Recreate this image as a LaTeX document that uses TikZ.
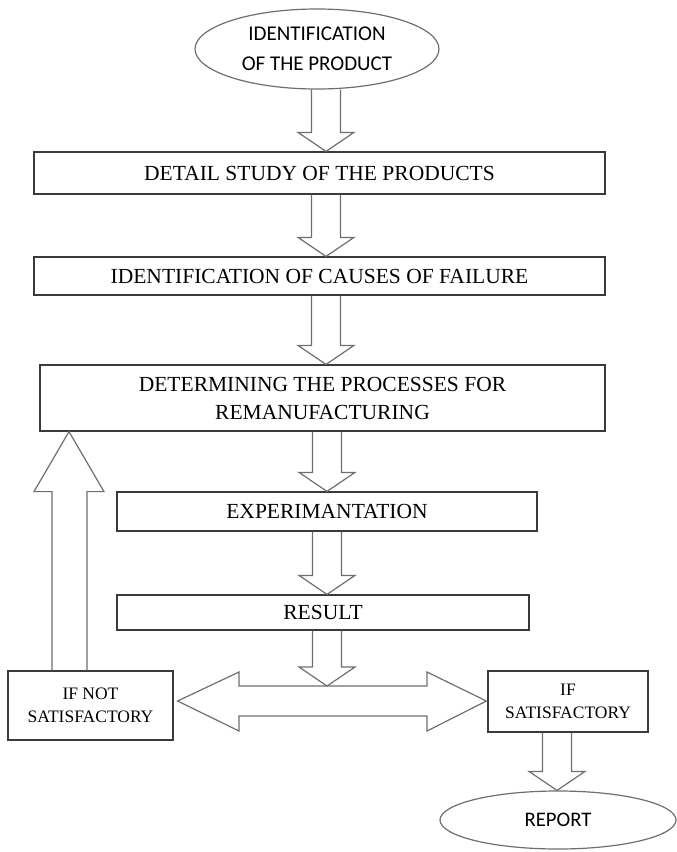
\documentclass[tikz,border=0pt]{standalone}
\usepackage{fontspec}
\setmainfont{Liberation Serif}
\newfontfamily\calib{Carlito}
\usetikzlibrary{shapes.geometric,calc}
\definecolor{boxc}{HTML}{3A3A3A}
\definecolor{arrc}{HTML}{6E6E6E}
\newcommand\blockdown[3]{%
  \draw[barrow] let \p1=(#1), \p2=(#2) in
    (#3pt-14.5pt,\y1) -- (#3pt-14.5pt,\y2+19pt) -- (#3pt-28pt,\y2+19pt) -- (#3pt,\y2)
    -- (#3pt+28pt,\y2+19pt) -- (#3pt+14.5pt,\y2+19pt) -- (#3pt+14.5pt,\y1);}
\begin{document}
\begin{tikzpicture}[x=1pt,y=-1pt,
  box/.style={draw=boxc, line width=1.2pt, inner sep=0pt, align=center,
    font=\fontsize{21.5}{28}\selectfont},
  smallbox/.style={box, font=\fontsize{17.5}{23}\selectfont},
  ell/.style={ellipse, draw=arrc, line width=1.2pt, inner sep=0pt, align=center},
  barrow/.style={draw=arrc, line width=1.2pt, line join=miter}]
\useasboundingbox (0,0) rectangle (677,852);
\node[ell, minimum width=244pt, minimum height=80pt,
  font=\calib\fontsize{21}{29.5}\selectfont] (top) at (317,49) {IDENTIFICATION\\[1pt]OF THE PRODUCT};
\node[box, minimum width=571pt, minimum height=42pt] (b1) at (319.5,173) {DETAIL STUDY OF THE PRODUCTS};
\node[box, minimum width=571pt, minimum height=38pt] (b2) at (319.5,276) {IDENTIFICATION OF CAUSES OF FAILURE};
\node[box, minimum width=565pt, minimum height=66pt] (b3) at (322.5,398) {DETERMINING THE PROCESSES FOR\\REMANUFACTURING};
\node[box, minimum width=420pt, minimum height=39pt] (b4) at (327,511.5) {EXPERIMANTATION};
\node[box, minimum width=412pt, minimum height=35pt] (b5) at (323,612.5) {RESULT};
\node[smallbox, minimum width=165pt, minimum height=69pt] (b6) at (90.5,705.5) {IF NOT\\SATISFACTORY};
\node[smallbox, minimum width=160pt, minimum height=61pt] (b7) at (568,701.5) {IF\\SATISFACTORY};
\node[ell, minimum width=236pt, minimum height=58pt,
  font=\calib\fontsize{20.7}{24}\selectfont] (rep) at (558,820) {REPORT};
\coordinate (dtop) at (327,686);
\blockdown{top.south}{b1.north}{326}
\blockdown{b1.south}{b2.north}{326}
\blockdown{b2.south}{b3.north}{326}
\blockdown{b3.south}{b4.north}{327}
\blockdown{b4.south}{b5.north}{327}
\blockdown{b5.south}{dtop}{327}
\blockdown{b7.south}{rep.north}{557}
\draw[barrow] let \p1=(b6.north), \p2=(b3.south) in
  (52pt,\y1) -- (52pt,\y2-60pt) -- (34pt,\y2-60pt) -- (69pt,\y2)
  -- (104pt,\y2-60pt) -- (87pt,\y2-60pt) -- (87pt,\y1);
\draw[barrow] let \p1=(b6.east), \p2=(b7.west) in
  (\x1+4pt,-701pt) -- (239pt,-672pt) -- (239pt,-686pt) -- (427pt,-686pt)
  -- (427pt,-672pt) -- (\x2-1pt,-701pt) -- (427pt,-731pt) -- (427pt,-716pt)
  -- (239pt,-716pt) -- (239pt,-731pt) -- cycle;
\end{tikzpicture}
\end{document}
